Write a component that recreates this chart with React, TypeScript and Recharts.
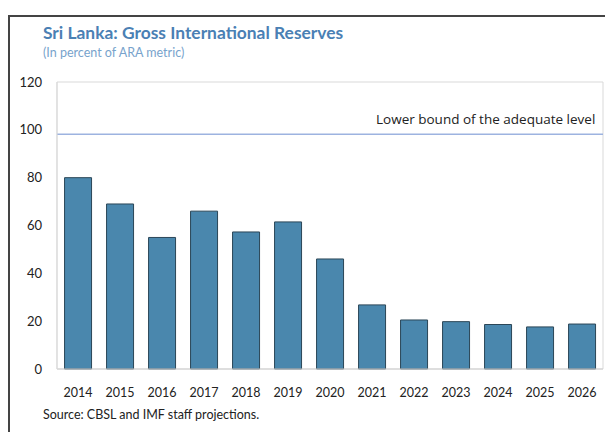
import React from "react";
import { BarChart, Bar, XAxis, YAxis, ReferenceLine, ReferenceArea } from "recharts";

const years = ["2014", "2015", "2016", "2017", "2018", "2019", "2020", "2021", "2022", "2023", "2024", "2025", "2026"];
const reserves = [80, 69, 55, 66, 57.3, 61.5, 46, 26.8, 20.5, 19.8, 18.6, 17.6, 18.8];
const yTicks = [0, 20, 40, 60, 80, 100, 120];
const adequateLevel = 98.2;

const data = years.map((y, i) => ({ year: y, value: reserves[i] }));

const font = "Lato, 'Open Sans', sans-serif";

export default function App() {
  return (
    <div style={{ position: "absolute", left: 0, top: 0, width: 605, height: 432, background: "#fff", overflow: "hidden", fontFamily: font }}>
      <div style={{ position: "absolute", left: 8, top: 15, width: 600, height: 420, borderLeft: "2px solid #444", borderTop: "2px solid #444" }} />
      <div style={{ position: "absolute", left: 43, top: 22, fontSize: 17.4, fontWeight: 700, color: "#4a80b4", whiteSpace: "nowrap" }}>
        Sri Lanka: Gross International Reserves
      </div>
      <div style={{ position: "absolute", left: 43, top: 45, fontSize: 12.5, color: "#77a3cc", whiteSpace: "nowrap" }}>
        (In percent of ARA metric)
      </div>
      <div style={{ position: "absolute", left: 0, top: 0 }}>
        <BarChart width={605} height={432} data={data} margin={{ top: 82, right: 2, bottom: 33, left: 0 }} barCategoryGap="18%">
          <ReferenceArea y1={0} y2={120} fill="none" stroke="#d9d9d9" strokeWidth={1} ifOverflow="visible" />
          <XAxis dataKey="year" height={30} tickLine={false} axisLine={{ stroke: "#d0d0d0" }} tickMargin={13} tick={{ fill: "#222", fontSize: 12.5, fontFamily: font }} interval={0} />
          <YAxis domain={[0, 120]} ticks={yTicks} width={57} tickLine={false} axisLine={{ stroke: "#d9d9d9" }} tickMargin={9} tick={{ fill: "#222", fontSize: 13, fontFamily: font }} />
          <Bar dataKey="value" fill="#4a87ad" stroke="#2b4657" strokeWidth={1} isAnimationActive={false} />
          <ReferenceLine y={adequateLevel} stroke="#9db3e0" strokeWidth={1.5} />
        </BarChart>
      </div>
      <div style={{ position: "absolute", left: 376, top: 110, fontSize: 13.5, color: "#222", whiteSpace: "nowrap", fontFamily: "'Open Sans', sans-serif" }}>
        Lower bound of the adequate level
      </div>
      <div style={{ position: "absolute", left: 43, top: 407, fontSize: 12.5, color: "#222", whiteSpace: "nowrap" }}>
        Source: CBSL and IMF staff projections.
      </div>
    </div>
  );
}
